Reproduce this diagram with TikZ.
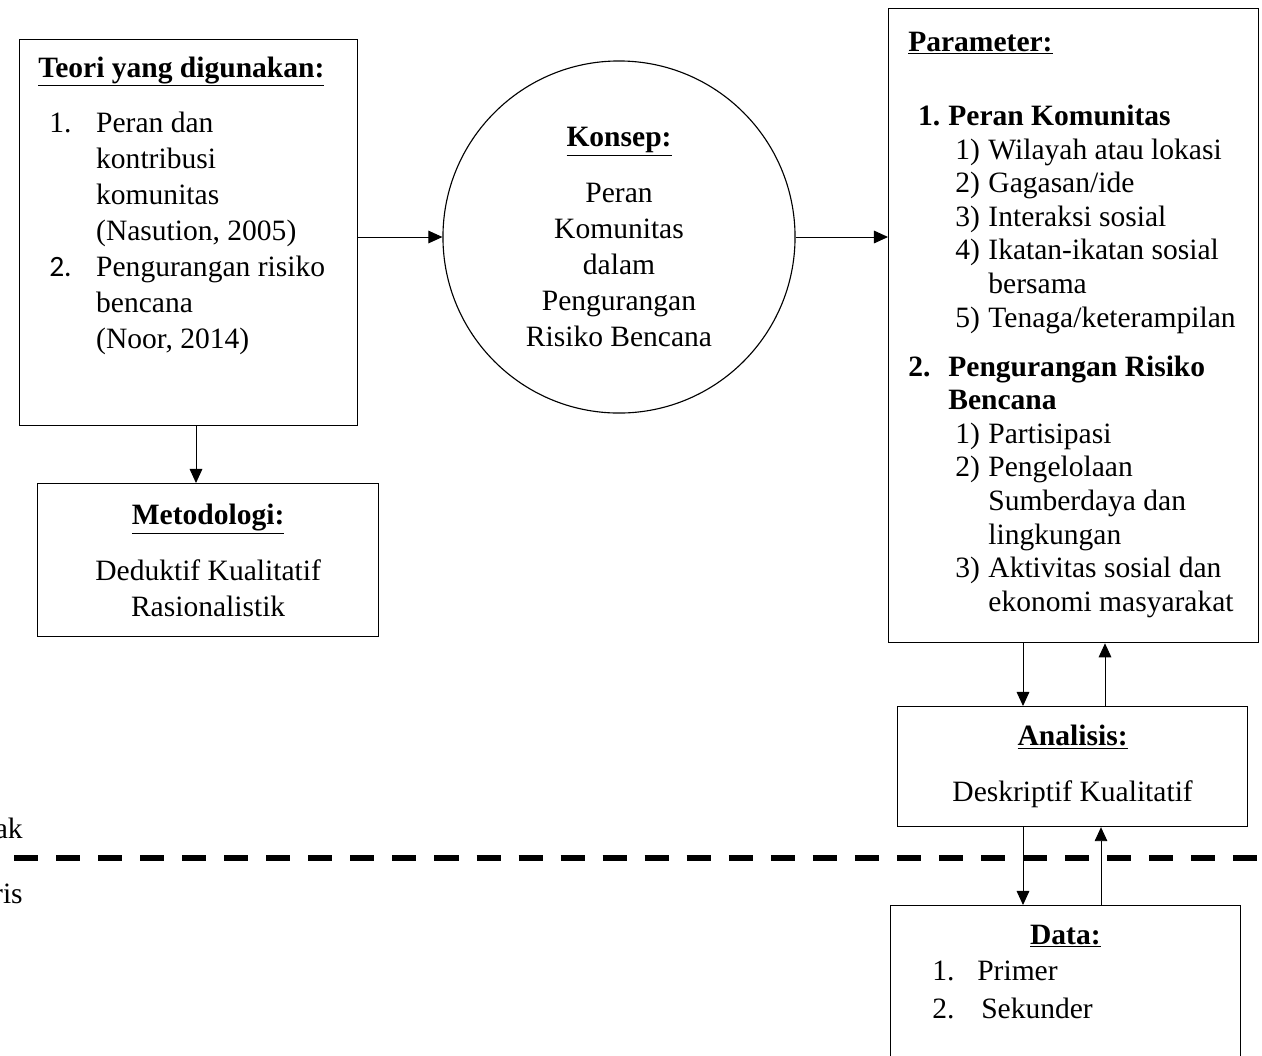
\documentclass[tikz,border=0pt]{standalone}
\usepackage{fontspec}
\setmainfont{Liberation Serif}
\newfontfamily\calibri{Carlito}
\usepackage{tikz}
\usetikzlibrary{arrows.meta}

\tikzset{
  box/.style={draw, rectangle, line width=0.8pt, anchor=north west},
  body/.style={font=\fontsize{21}{25.6}\selectfont},
  txt/.style={body, inner sep=0pt, anchor=base west},
  link/.style={-{Triangle[length=10pt,width=9pt]}, line width=0.7pt}
}

\begin{document}
\begin{tikzpicture}[x=0.025cm, y=-0.025cm]
  \useasboundingbox (0,0) rectangle (1262,1055);

  % Define nodes
  \node[box, minimum width=8.45cm, minimum height=9.65cm] (teori) at (19,39) {};
  \node[txt] (teorilist) at (38,77) {\begin{tabular}[t]{@{\hspace{7.8pt}}p{33.4pt}@{}l@{}}
    \multicolumn{2}{@{}l@{}}{\bfseries\underline{Teori yang digunakan:}}\\[14pt]
    1. & Peran dan\\
       & kontribusi\\
       & komunitas\\
       & (Nasution, 2005)\\
    {\calibri 2.} & Pengurangan risiko\\
       & bencana\\
       & (Noor, 2014)
  \end{tabular}};

  \node[box, body, minimum width=8.525cm, minimum height=3.825cm, align=center] (metodologi) at (37,483)
    {\textbf{\underline{Metodologi:}}\\[14pt] Deduktif Kualitatif\\ Rasionalistik};

  \node[draw, circle, body, line width=0.8pt, minimum size=8.8cm, align=center] (konsep) at (619,237)
    {\textbf{\underline{Konsep:}}\\[14pt] Peran\\ Komunitas\\ dalam\\ Pengurangan\\ Risiko Bencana};

  \node[box, minimum width=9.25cm, minimum height=15.85cm] (parameter) at (888,8) {};
  \node[txt, font=\fontsize{21}{23.9}\selectfont] (paramlist) at (908,51) {\begin{tabular}[t]{@{}p{28.5pt}@{}p{28.5pt}@{}l@{}}
    \multicolumn{3}{@{}l@{}}{\bfseries\underline{Parameter:}}\\[29pt]
    \hspace{7pt}\bfseries 1. & \multicolumn{2}{@{}l@{}}{\bfseries Peran Komunitas}\\
      & \hspace{5pt}1) & Wilayah atau lokasi\\
      & \hspace{5pt}2) & Gagasan/ide\\
      & \hspace{5pt}3) & Interaksi sosial\\
      & \hspace{5pt}4) & Ikatan-ikatan sosial\\
      &                & bersama\\
      & \hspace{5pt}5) & Tenaga/keterampilan\\[11pt]
    \bfseries 2. & \multicolumn{2}{@{}l@{}}{\bfseries Pengurangan Risiko}\\
      & \multicolumn{2}{@{}l@{}}{\bfseries Bencana}\\
      & \hspace{5pt}1) & Partisipasi\\
      & \hspace{5pt}2) & Pengelolaan\\
      &                & Sumberdaya dan\\
      &                & lingkungan\\
      & \hspace{5pt}3) & Aktivitas sosial dan\\
      &                & ekonomi masyarakat
  \end{tabular}};

  \node[box, body, minimum width=8.75cm, minimum height=3cm, align=center] (analisis) at (897,706)
    {\textbf{\underline{Analisis:}}\\[14pt] Deskriptif Kualitatif};

  \node[box, minimum width=8.75cm, minimum height=4cm] (data) at (890,905) {};
  \node[txt] (datalist) at (890,944) {\begin{tabular}[t]{@{}p{61.9pt}@{}p{187.1pt}@{}}
    \multicolumn{2}{@{}c@{}}{\bfseries\underline{Data:}}\\
    \hspace{29.9pt}1. & Primer\\[2pt]
    \hspace{29.9pt}2. & \hspace{2.8pt}Sekunder
  \end{tabular}};

  \node[body, inner sep=0pt, anchor=base east] (abstrak) at (23,838) {ak};
  \node[body, inner sep=0pt, anchor=base east] (empiris) at (23,903) {ris};

  \coordinate (tm) at (196,0);
  \coordinate (dn) at (1023,0);
  \coordinate (upA) at (1105,0);
  \coordinate (upB) at (1101,0);

  % Connect the nodes
  \draw[link] (konsep.west -| teori.east) -- (konsep.west);
  \draw[link] (konsep.east) -- (konsep.east -| parameter.west);
  \draw[link] (teori.south -| tm) -- (metodologi.north -| tm);
  \draw[link] (parameter.south -| dn) -- (analisis.north -| dn);
  \draw[link] (analisis.north -| upA) -- (parameter.south -| upA);
  \draw[link] (analisis.south -| dn) -- (data.north -| dn);
  \draw[link] (data.north -| upB) -- (analisis.south -| upB);

  % Boundary line
  \draw[line width=4.3pt, dash pattern=on 17.1pt off 12.8pt] (14,858) -- (1262,858);

\end{tikzpicture}
\end{document}
